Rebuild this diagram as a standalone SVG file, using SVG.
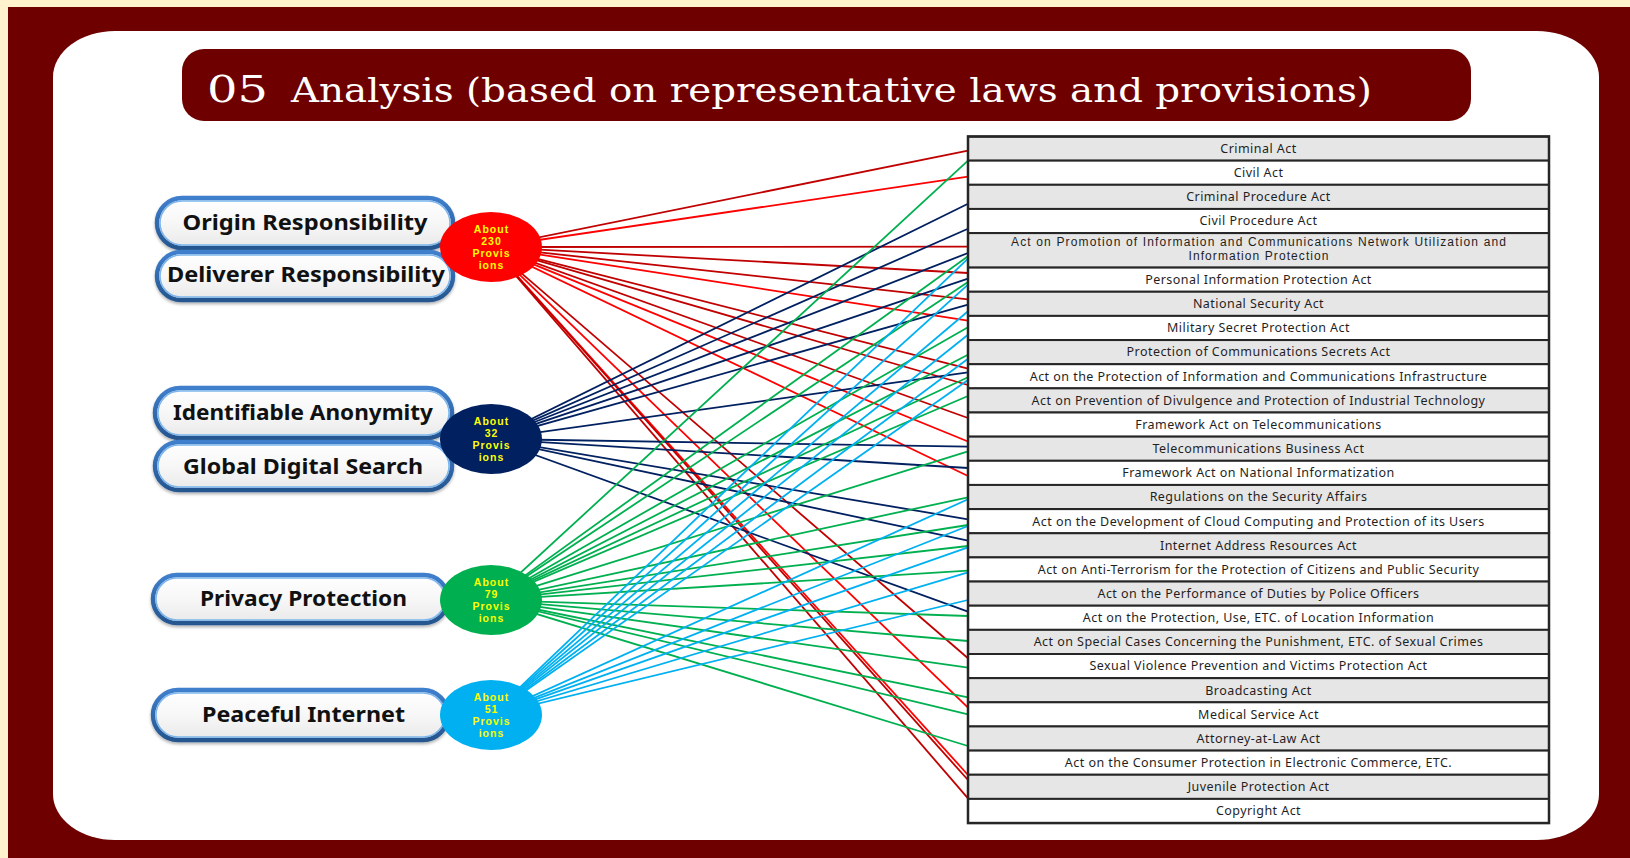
<svg xmlns="http://www.w3.org/2000/svg" width="1630" height="858" viewBox="0 0 1630 858">
<defs>
<style>
.title{font-family:"DejaVu Serif","Liberation Serif",serif;fill:#ffffff}
.pilltxt{font-family:"Noto Sans","Liberation Sans",sans-serif;font-weight:bold;font-size:21px;fill:#111;text-anchor:middle}
.ctxt{font-family:"Liberation Sans","Noto Sans",sans-serif;font-weight:bold;font-size:10.5px;letter-spacing:1px;fill:#FFFF00;text-anchor:middle}
.row{stroke:#262626;stroke-width:2}
.g{fill:#E7E6E6}
.w{fill:#ffffff}
.rt{font-family:"Noto Sans","Liberation Sans",sans-serif;font-size:12.5px;letter-spacing:0.45px;fill:#1f1f1f;text-anchor:middle}
.rt2{font-family:"Liberation Sans","Noto Sans",sans-serif;font-size:12px;fill:#1f1f1f;text-anchor:middle}
.lr{stroke:#FF0000;stroke-width:1.8}
.ld{stroke:#C00000;stroke-width:1.8}
.ln{stroke:#002060;stroke-width:1.8}
.lg{stroke:#00B050;stroke-width:1.8}
.lb{stroke:#00B0F0;stroke-width:1.8}
.pill{fill:url(#pillFill);stroke:url(#pillStroke);stroke-width:4.5;filter:url(#shadow)}
.pillin{fill:none;stroke:#7DB6EC;stroke-width:1.5}
</style>
<linearGradient id="pillFill" x1="0" y1="0" x2="0" y2="1">
<stop offset="0" stop-color="#ffffff"/>
<stop offset="0.5" stop-color="#f7f7f7"/>
<stop offset="1" stop-color="#e9e9e9"/>
</linearGradient>
<linearGradient id="pillStroke" x1="0" y1="0" x2="0" y2="1">
<stop offset="0" stop-color="#3F7FCC"/>
<stop offset="1" stop-color="#25568F"/>
</linearGradient>
<filter id="shadow" x="-5%" y="-20%" width="110%" height="150%">
<feDropShadow dx="0" dy="2" stdDeviation="1.5" flood-color="#000" flood-opacity="0.3"/>
</filter>
</defs>

<rect x="0" y="0" width="1630" height="858" fill="#FFF2CC"/>
<rect x="8" y="7" width="1622" height="851" fill="#6E0000"/>
<rect x="53" y="31" width="1546" height="809" rx="62" ry="46" fill="#ffffff"/>

<g id="title">
<rect x="182" y="49" width="1289" height="72" rx="22" ry="22" fill="#6E0000"/>
<text class="title" x="207" y="102" font-size="38" textLength="61" lengthAdjust="spacingAndGlyphs">05</text>
<text class="title" x="291" y="102" font-size="33" textLength="1081" lengthAdjust="spacingAndGlyphs">Analysis (based on representative laws and provisions)</text>
</g>

<g id="connectors" fill="none">
<line class="ld" x1="491" y1="247" x2="968" y2="150.7"/>
<line class="lr" x1="491" y1="247" x2="968" y2="176.7"/>
<line class="ld" x1="491" y1="247" x2="968" y2="246.7"/>
<line class="ld" x1="491" y1="247" x2="968" y2="273"/>
<line class="ld" x1="491" y1="247" x2="968" y2="299.3"/>
<line class="lr" x1="491" y1="247" x2="968" y2="320.7"/>
<line class="ld" x1="491" y1="247" x2="968" y2="368.7"/>
<line class="ld" x1="491" y1="247" x2="968" y2="385"/>
<line class="ld" x1="491" y1="247" x2="968" y2="418"/>
<line class="lr" x1="491" y1="247" x2="968" y2="441.5"/>
<line class="lr" x1="491" y1="247" x2="968" y2="476"/>
<line class="ld" x1="491" y1="247" x2="968" y2="658.3"/>
<line class="lr" x1="491" y1="247" x2="968" y2="707.7"/>
<line class="lr" x1="491" y1="247" x2="968" y2="775"/>
<line class="ld" x1="491" y1="247" x2="968" y2="780"/>
<line class="ld" x1="491" y1="247" x2="968" y2="798.3"/>

<line class="ln" x1="491" y1="439" x2="968" y2="203.7"/>
<line class="ln" x1="491" y1="439" x2="968" y2="228.7"/>
<line class="ln" x1="491" y1="439" x2="968" y2="253"/>
<line class="ln" x1="491" y1="439" x2="968" y2="278.7"/>
<line class="ln" x1="491" y1="439" x2="968" y2="304.7"/>
<line class="ln" x1="491" y1="439" x2="968" y2="372.3"/>
<line class="ln" x1="491" y1="439" x2="968" y2="446.7"/>
<line class="ln" x1="491" y1="439" x2="968" y2="468"/>
<line class="ln" x1="491" y1="439" x2="968" y2="519.3"/>
<line class="ln" x1="491" y1="439" x2="968" y2="540.7"/>
<line class="ln" x1="491" y1="439" x2="968" y2="611.7"/>

<line class="lg" x1="491" y1="600" x2="968" y2="160.7"/>
<line class="lg" x1="491" y1="600" x2="968" y2="256.3"/>
<line class="lg" x1="491" y1="600" x2="968" y2="282"/>
<line class="lg" x1="491" y1="600" x2="968" y2="327.3"/>
<line class="lg" x1="491" y1="600" x2="968" y2="354.7"/>
<line class="lg" x1="491" y1="600" x2="968" y2="377.3"/>
<line class="lg" x1="491" y1="600" x2="968" y2="396"/>
<line class="lg" x1="491" y1="600" x2="968" y2="451.3"/>
<line class="lg" x1="491" y1="600" x2="968" y2="497.3"/>
<line class="lg" x1="491" y1="600" x2="968" y2="525"/>
<line class="lg" x1="491" y1="600" x2="968" y2="546"/>
<line class="lg" x1="491" y1="600" x2="968" y2="570.7"/>
<line class="lg" x1="491" y1="600" x2="968" y2="616"/>
<line class="lg" x1="491" y1="600" x2="968" y2="641"/>
<line class="lg" x1="491" y1="600" x2="968" y2="667.7"/>
<line class="lg" x1="491" y1="600" x2="968" y2="697.3"/>
<line class="lg" x1="491" y1="600" x2="968" y2="714.3"/>
<line class="lg" x1="491" y1="600" x2="968" y2="746"/>

<line class="lb" x1="491" y1="715" x2="968" y2="258.7"/>
<line class="lb" x1="491" y1="715" x2="968" y2="284.7"/>
<line class="lb" x1="491" y1="715" x2="968" y2="311.3"/>
<line class="lb" x1="491" y1="715" x2="968" y2="334.7"/>
<line class="lb" x1="491" y1="715" x2="968" y2="358.7"/>
<line class="lb" x1="491" y1="715" x2="968" y2="380"/>
<line class="lb" x1="491" y1="715" x2="968" y2="499.3"/>
<line class="lb" x1="491" y1="715" x2="968" y2="526"/>
<line class="lb" x1="491" y1="715" x2="968" y2="547.3"/>
<line class="lb" x1="491" y1="715" x2="968" y2="572.3"/>
<line class="lb" x1="491" y1="715" x2="968" y2="600"/>
</g>

<g id="pill-origin">
<rect class="pill" x="157" y="198" width="296" height="50" rx="25"/>
<rect class="pillin" x="160" y="201" width="290" height="44" rx="22"/>
<text class="pilltxt" x="305" y="230" textLength="245" lengthAdjust="spacingAndGlyphs">Origin Responsibility</text>
</g>
<g id="pill-deliverer">
<rect class="pill" x="157" y="252" width="296" height="48" rx="24"/>
<rect class="pillin" x="160" y="255" width="290" height="42" rx="21"/>
<text class="pilltxt" x="306" y="282" textLength="278" lengthAdjust="spacingAndGlyphs">Deliverer Responsibility</text>
</g>
<g id="pill-identifiable">
<rect class="pill" x="155" y="388" width="297" height="50" rx="25"/>
<rect class="pillin" x="158" y="391" width="291" height="44" rx="22"/>
<text class="pilltxt" x="303" y="420" textLength="260" lengthAdjust="spacingAndGlyphs">Identifiable Anonymity</text>
</g>
<g id="pill-global">
<rect class="pill" x="155" y="442" width="297" height="48" rx="24"/>
<rect class="pillin" x="158" y="445" width="291" height="42" rx="21"/>
<text class="pilltxt" x="303" y="474" textLength="240" lengthAdjust="spacingAndGlyphs">Global Digital Search</text>
</g>
<g id="pill-privacy">
<rect class="pill" x="153" y="575" width="295" height="48" rx="24"/>
<rect class="pillin" x="156" y="578" width="289" height="42" rx="21"/>
<text class="pilltxt" x="303.5" y="606" textLength="207" lengthAdjust="spacingAndGlyphs">Privacy Protection</text>
</g>
<g id="pill-peaceful">
<rect class="pill" x="153" y="690" width="295" height="50" rx="25"/>
<rect class="pillin" x="156" y="693" width="289" height="44" rx="22"/>
<text class="pilltxt" x="303.5" y="722" textLength="203" lengthAdjust="spacingAndGlyphs">Peaceful Internet</text>
</g>

<g id="circle-red">
<ellipse cx="491" cy="247" rx="51" ry="35" fill="#FF0000"/>
<text class="ctxt" x="491.5" y="233">About</text>
<text class="ctxt" x="491.5" y="245">230</text>
<text class="ctxt" x="491.5" y="257">Provis</text>
<text class="ctxt" x="491.5" y="269">ions</text>
</g>
<g id="circle-navy">
<ellipse cx="491" cy="439" rx="51" ry="35" fill="#002060"/>
<text class="ctxt" x="491.5" y="425">About</text>
<text class="ctxt" x="491.5" y="437">32</text>
<text class="ctxt" x="491.5" y="449">Provis</text>
<text class="ctxt" x="491.5" y="461">ions</text>
</g>
<g id="circle-green">
<ellipse cx="491" cy="600" rx="51" ry="35" fill="#00B050"/>
<text class="ctxt" x="491.5" y="586">About</text>
<text class="ctxt" x="491.5" y="598">79</text>
<text class="ctxt" x="491.5" y="610">Provis</text>
<text class="ctxt" x="491.5" y="622">ions</text>
</g>
<g id="circle-blue">
<ellipse cx="491" cy="715" rx="51" ry="35" fill="#00B0F0"/>
<text class="ctxt" x="491.5" y="701">About</text>
<text class="ctxt" x="491.5" y="713">51</text>
<text class="ctxt" x="491.5" y="725">Provis</text>
<text class="ctxt" x="491.5" y="737">ions</text>
</g>

<g id="law-table">
<rect class="g row" x="968" y="136.5" width="581" height="24.15"/>
<rect class="w row" x="968" y="160.65" width="581" height="24.15"/>
<rect class="g row" x="968" y="184.8" width="581" height="24.15"/>
<rect class="w row" x="968" y="208.95" width="581" height="24.15"/>
<rect class="g row" x="968" y="233.1" width="581" height="34.5"/>
<rect class="w row" x="968" y="267.6" width="581" height="24.15"/>
<rect class="g row" x="968" y="291.75" width="581" height="24.15"/>
<rect class="w row" x="968" y="315.9" width="581" height="24.15"/>
<rect class="g row" x="968" y="340.05" width="581" height="24.15"/>
<rect class="w row" x="968" y="364.2" width="581" height="24.15"/>
<rect class="g row" x="968" y="388.35" width="581" height="24.15"/>
<rect class="w row" x="968" y="412.5" width="581" height="24.15"/>
<rect class="g row" x="968" y="436.65" width="581" height="24.15"/>
<rect class="w row" x="968" y="460.8" width="581" height="24.15"/>
<rect class="g row" x="968" y="484.95" width="581" height="24.15"/>
<rect class="w row" x="968" y="509.1" width="581" height="24.15"/>
<rect class="g row" x="968" y="533.25" width="581" height="24.15"/>
<rect class="w row" x="968" y="557.4" width="581" height="24.15"/>
<rect class="g row" x="968" y="581.55" width="581" height="24.15"/>
<rect class="w row" x="968" y="605.7" width="581" height="24.15"/>
<rect class="g row" x="968" y="629.85" width="581" height="24.15"/>
<rect class="w row" x="968" y="654" width="581" height="24.15"/>
<rect class="g row" x="968" y="678.15" width="581" height="24.15"/>
<rect class="w row" x="968" y="702.3" width="581" height="24.15"/>
<rect class="g row" x="968" y="726.45" width="581" height="24.15"/>
<rect class="w row" x="968" y="750.6" width="581" height="24.15"/>
<rect class="g row" x="968" y="774.75" width="581" height="24.15"/>
<rect class="w row" x="968" y="798.9" width="581" height="24.15"/>
<rect x="968" y="136.5" width="581" height="686.55" fill="none" stroke="#262626" stroke-width="2.5"/>

<text class="rt" x="1258.5" y="152.9">Criminal Act</text>
<text class="rt" x="1258.5" y="177">Civil Act</text>
<text class="rt" x="1258.5" y="201.2">Criminal Procedure Act</text>
<text class="rt" x="1258.5" y="225.3">Civil Procedure Act</text>
<text class="rt2" x="1258.5" y="246.4" textLength="495" lengthAdjust="spacing">Act on Promotion of Information and Communications Network Utilization and</text>
<text class="rt2" x="1258.5" y="260.2" textLength="140" lengthAdjust="spacing">Information Protection</text>
<text class="rt" x="1258.5" y="284">Personal Information Protection Act</text>
<text class="rt" x="1258.5" y="308.1">National Security Act</text>
<text class="rt" x="1258.5" y="332.3">Military Secret Protection Act</text>
<text class="rt" x="1258.5" y="356.4">Protection of Communications Secrets Act</text>
<text class="rt" x="1258.5" y="380.6">Act on the Protection of Information and Communications Infrastructure</text>
<text class="rt" x="1258.5" y="404.7">Act on Prevention of Divulgence and Protection of Industrial Technology</text>
<text class="rt" x="1258.5" y="428.9">Framework Act on Telecommunications</text>
<text class="rt" x="1258.5" y="453">Telecommunications Business Act</text>
<text class="rt" x="1258.5" y="477.2">Framework Act on National Informatization</text>
<text class="rt" x="1258.5" y="501.3">Regulations on the Security Affairs</text>
<text class="rt" x="1258.5" y="525.5">Act on the Development of Cloud Computing and Protection of its Users</text>
<text class="rt" x="1258.5" y="549.6">Internet Address Resources Act</text>
<text class="rt" x="1258.5" y="573.8">Act on Anti-Terrorism for the Protection of Citizens and Public Security</text>
<text class="rt" x="1258.5" y="597.9">Act on the Performance of Duties by Police Officers</text>
<text class="rt" x="1258.5" y="622.1">Act on the Protection, Use, ETC. of Location Information</text>
<text class="rt" x="1258.5" y="646.2">Act on Special Cases Concerning the Punishment, ETC. of Sexual Crimes</text>
<text class="rt" x="1258.5" y="670.4">Sexual Violence Prevention and Victims Protection Act</text>
<text class="rt" x="1258.5" y="694.5">Broadcasting Act</text>
<text class="rt" x="1258.5" y="718.7">Medical Service Act</text>
<text class="rt" x="1258.5" y="742.8">Attorney-at-Law Act</text>
<text class="rt" x="1258.5" y="767">Act on the Consumer Protection in Electronic Commerce, ETC.</text>
<text class="rt" x="1258.5" y="791.1">Juvenile Protection Act</text>
<text class="rt" x="1258.5" y="815.3">Copyright Act</text>
</g>
</svg>
